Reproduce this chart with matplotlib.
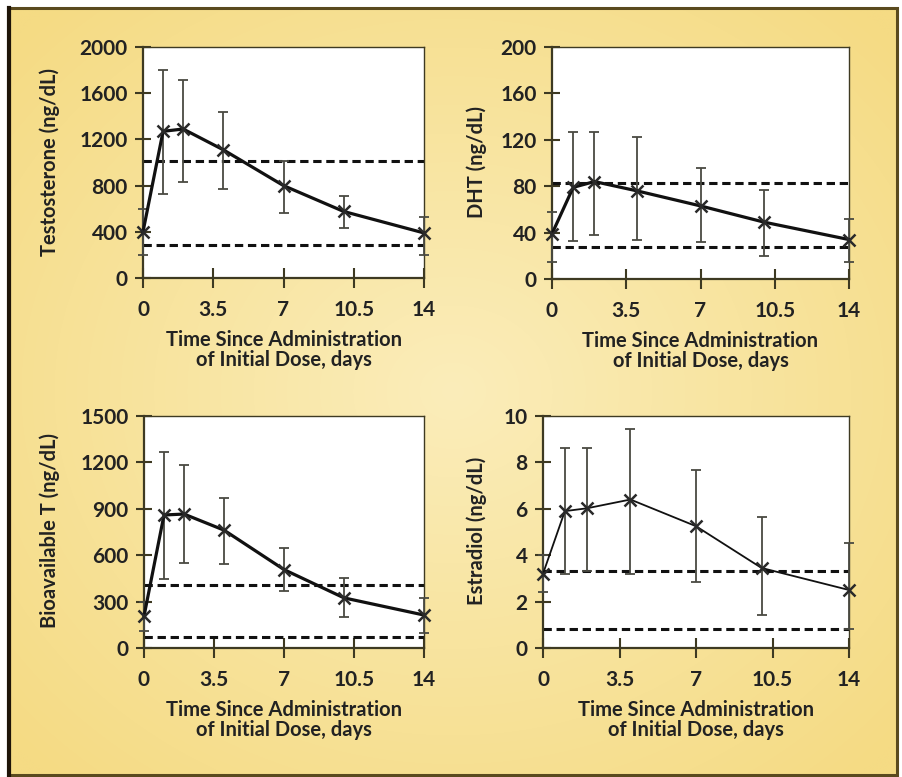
import numpy as np
import matplotlib
matplotlib.use('Agg')
import matplotlib.pyplot as plt
from matplotlib.patches import Rectangle

plt.rcParams['font.family'] = ['Lato', 'DejaVu Sans']
plt.rcParams['font.weight'] = 'bold'
plt.rcParams['lines.scale_dashes'] = False

W, H = 902, 777

# days since initial dose
days = [0, 1, 2, 4, 7, 10, 14]

testo = [400, 1270, 1290, 1110, 800, 576, 390]
testo_hi = [600, 1800, 1710, 1435, 1016, 714, 532]
testo_lo = [200, 730, 835, 771, 561, 437, 201]
testo_ref = [1015, 282]

dht = [39, 79, 84, 76, 63, 49, 34]
dht_hi = [58, 127, 127, 122, 96, 77, 52]
dht_lo = [15, 33, 38, 34, 32, 20, 15]
dht_ref = [83, 28]

bioT = [205, 860, 866, 762, 507, 324, 213]
bioT_hi = [300, 1269, 1183, 973, 647, 453, 323]
bioT_lo = [110, 449, 550, 540, 367, 200, 95]
bioT_ref = [406, 69]

estr = [3.2, 5.9, 6.02, 6.4, 5.25, 3.45, 2.5]
estr_hi = [4.0, 8.6, 8.6, 9.44, 7.67, 5.65, 4.53]
estr_lo = [2.4, 3.2, 3.3, 3.2, 2.85, 1.44, 0.8]
estr_ref = [3.32, 0.8]

xticks = [0, 3.5, 7, 10.5, 14]
xtick_labels = ['0', '3.5', '7', '10.5', '14']

panels = [
    # values, hi, lo, ref, ymax, yticks, ylabel, box(px), ylabel x px, line width
    (testo, testo_hi, testo_lo, testo_ref, 2000, [0, 400, 800, 1200, 1600, 2000],
     'Testosterone (ng/dL)', (143, 424, 47, 278), 50, 2.3),
    (dht, dht_hi, dht_lo, dht_ref, 200, [0, 40, 80, 120, 160, 200],
     'DHT (ng/dL)', (552, 849, 47, 279), 477, 2.3),
    (bioT, bioT_hi, bioT_lo, bioT_ref, 1500, [0, 300, 600, 900, 1200, 1500],
     'Bioavailable T (ng/dL)', (144, 424, 416, 648), 50, 2.3),
    (estr, estr_hi, estr_lo, estr_ref, 10, [0, 2, 4, 6, 8, 10],
     'Estradiol (ng/dL)', (543, 849, 416, 648), 477, 1.3),
]

fig = plt.figure(figsize=(W / 100, H / 100), dpi=100)
fig.patch.set_facecolor('white')

# yellow panel background with dark frame
bg = fig.add_axes([0, 0, 1, 1], zorder=-10)
bg.set_xlim(0, W)
bg.set_ylim(H, 0)
bg.axis('off')
gx, gy = np.meshgrid(np.linspace(-1, 1, 300), np.linspace(-1, 1, 260))
r = np.clip(np.sqrt(gx ** 2 + gy ** 2) / 1.35, 0, 1)
c0 = np.array([251, 237, 186]) / 255
c1 = np.array([245, 219, 132]) / 255
img = c0[None, None, :] * (1 - r[..., None]) + c1[None, None, :] * r[..., None]
bg.imshow(img, extent=(9, 897, 775, 8), aspect='auto', interpolation='bilinear')
bg.add_patch(Rectangle((9, 8), 888, 767, fill=False, ec='#5a4a1e', lw=2.2))
bg.plot([9, 9], [8, 775], color='#1e1408', lw=3.0)

spine_col = '#3e3a22'
for vals, hi, lo, ref, ymax, yticks, ylabel, box, ylx, lw in panels:
    left, right, top, bottom = box
    ax = fig.add_axes([left / W, 1 - bottom / H, (right - left) / W, (bottom - top) / H])
    ax.set_facecolor('white')
    ax.set_xlim(0, 14)
    ax.set_ylim(0, ymax)

    for y in ref:
        ax.axhline(y, color='#111111', lw=2.2, dashes=(6, 3.4), zorder=2)

    v = np.array(vals)
    yerr = [v - np.array(lo), np.array(hi) - v]
    ax.errorbar(days, vals, yerr=yerr, fmt='none', ecolor='#4a4a42', elinewidth=1.3,
                capsize=3.8, capthick=1.3, zorder=3, clip_on=False)
    ax.plot(days, vals, color='#111111', lw=lw, zorder=4, clip_on=False)
    ax.plot(days, vals, ls='none', marker='x', ms=8, mew=1.8, color='#2a2a2a',
            zorder=5, clip_on=False)

    ax.set_xticks(xticks)
    ax.set_xticklabels(xtick_labels)
    ax.set_yticks(yticks)
    ax.tick_params(axis='x', direction='inout', length=14, width=1.5, pad=9,
                   color=spine_col, labelsize=15, labelcolor='#222222')
    ax.tick_params(axis='y', direction='inout', length=12, width=1.5, pad=5,
                   color=spine_col, labelsize=15, labelcolor='#222222')
    for side in ['left', 'bottom']:
        ax.spines[side].set_color(spine_col)
        ax.spines[side].set_linewidth(1.6)
    for side in ['top', 'right']:
        ax.spines[side].set_color(spine_col)
        ax.spines[side].set_linewidth(1.0)

    cx = (left + right) / 2
    fig.text(cx / W, 1 - (bottom + 72) / H,
             'Time Since Administration\nof Initial Dose, days',
             ha='center', va='center', ma='center', fontsize=14.5, linespacing=1.05,
             color='#222222')
    fig.text(ylx / W, 1 - ((top + bottom) / 2 - 1) / H, ylabel, rotation=90,
             ha='center', va='center', fontsize=14.5, color='#222222')

fig.savefig('out.png', dpi=100)
